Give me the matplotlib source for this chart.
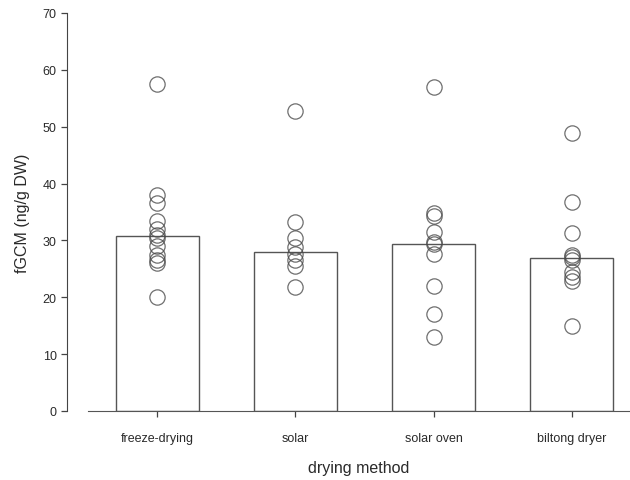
import matplotlib
matplotlib.use("Agg")
import matplotlib.pyplot as plt

plt.rcParams['font.family'] = ['Liberation Sans', 'DejaVu Sans']

categories = ["freeze-drying", "solar", "solar oven", "biltong dryer"]
bar_heights = [30.8, 27.9, 29.4, 26.9]
freeze_drying = [57.5, 38.0, 36.5, 33.5, 32.0, 31.0, 30.5, 29.0, 27.5, 26.5, 26.0, 20.0]
solar = [52.8, 33.2, 30.5, 28.8, 27.6, 26.5, 25.5, 21.8]
solar_oven = [56.9, 34.9, 34.3, 31.4, 29.8, 29.4, 27.6, 22.0, 17.1, 13.0]
biltong_dryer = [48.9, 36.8, 31.3, 27.5, 27.0, 26.5, 24.5, 23.5, 22.8, 14.9]
points = [freeze_drying, solar, solar_oven, biltong_dryer]
yticks = [0, 10, 20, 30, 40, 50, 60, 70]

fig = plt.figure(figsize=(6.3, 4.81), dpi=100)
ax = fig.add_axes([88/630, 69/481, (630-88)/630, (412-14)/481])

x = list(range(len(categories)))
ax.bar(x, bar_heights, width=0.6, facecolor='white', edgecolor='#555555', linewidth=1.0, zorder=2)
for i, vals in enumerate(points):
    ax.plot([i]*len(vals), vals, linestyle='none', marker='o', markersize=11,
            markerfacecolor='none', markeredgecolor='#4a4a4a', markeredgewidth=0.9,
            alpha=0.8, zorder=3)

ax.set_xlim(-0.5, 3.42)
ax.set_ylim(0, 70)
ax.set_yticks(yticks)
ax.set_xticks(x)
ax.set_xticklabels(categories)

for s in ['top', 'right']:
    ax.spines[s].set_visible(False)
ax.spines['left'].set_position(('outward', 15))
ax.spines['left'].set_color('#444444')
ax.spines['bottom'].set_color('#555555')
ax.tick_params(axis='both', colors='#444444', labelcolor='#2a2a2a', labelsize=9, length=4, width=0.9)
ax.tick_params(axis='x', pad=11)

ax.set_xlabel("drying method", fontsize=11.5, color='#2a2a2a', labelpad=12)
ax.set_ylabel("fGCM (ng/g DW)", fontsize=11.5, color='#2a2a2a', labelpad=9)

fig.savefig("out.png", dpi=100)
